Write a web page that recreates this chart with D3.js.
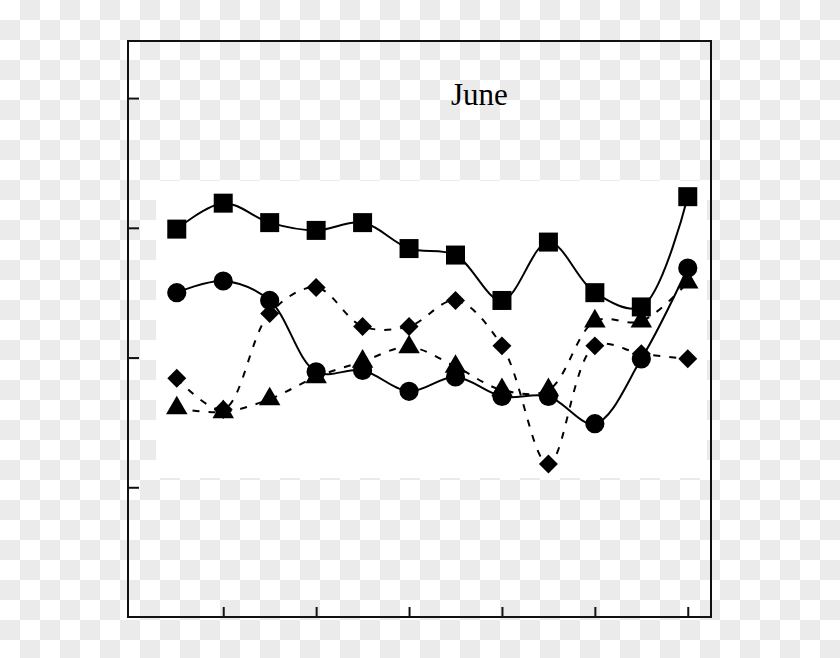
<!DOCTYPE html>
<html>
<head>
<meta charset="utf-8">
<script src="https://cdn.jsdelivr.net/npm/d3@7"></script>
<style>
  html, body { margin: 0; padding: 0; }
  svg { display: block; }
</style>
</head>
<body>
<svg id="canvas"></svg>
<script>
// 12 sampling points along the x axis, no tick labels shown
const xIndex = [0, 1, 2, 3, 4, 5, 6, 7, 8, 9, 10, 11];
const xTicks = [1, 3, 5, 7, 9, 11];
const yTicks = [10, 20, 30, 40];

const squareValues   = [29.9, 31.9, 30.4, 29.8, 30.4, 28.4, 27.9, 24.4, 28.9, 25.0, 23.9, 32.4];
const circleValues   = [25.0, 25.9, 24.4, 18.9, 19.0, 17.4, 18.5, 17.0, 17.0, 14.9, 19.9, 26.9];
const diamondValues  = [18.4, 16.0, 23.4, 25.4, 22.4, 22.4, 24.4, 20.9, 11.8, 20.9, 20.3, 19.9];
const triangleValues = [16.1, 15.8, 16.8, 18.5, 19.7, 20.8, 19.3, 17.5, 17.5, 22.8, 22.8, 25.8];

const title = "June";

const width = 840;
const height = 658;
const plotLeft = 128, plotRight = 711, plotTop = 41, plotBottom = 617;

const svg = d3.select("#canvas")
    .attr("width", width)
    .attr("height", height);

// checkered backdrop
const cell = 20;
const cells = [];
for (let j = 0; j < Math.ceil(height / cell); j++) {
    for (let i = 0; i < Math.ceil(width / cell); i++) {
        if ((i + j) % 2 === 1) cells.push([i, j]);
    }
}
svg.append("rect").attr("width", width).attr("height", height).attr("fill", "#ffffff");
svg.append("g").selectAll("rect")
    .data(cells)
    .enter()
    .append("rect")
    .attr("x", d => d[0] * cell)
    .attr("y", d => d[1] * cell)
    .attr("width", cell)
    .attr("height", cell)
    .attr("fill", "#ebebeb");

// white patch behind the curves
svg.append("rect")
    .attr("x", 156).attr("y", 181)
    .attr("width", 551).attr("height", 297)
    .attr("fill", "#ffffff");

const x = d3.scaleLinear().domain([-1.05, 11.5]).range([plotLeft, plotRight]);
const y = d3.scaleLinear().domain([0, 44.4]).range([plotBottom, plotTop]);

const xAxis = d3.axisBottom(x).tickValues(xTicks).tickSize(-10).tickFormat("");
const yAxis = d3.axisLeft(y).tickValues(yTicks).tickSize(-11).tickFormat("");

svg.append("g")
    .attr("transform", `translate(0, ${plotBottom})`)
    .call(xAxis)
    .call(g => g.select(".domain").remove())
    .selectAll("line").attr("stroke", "#111").attr("stroke-width", 2);

svg.append("g")
    .attr("transform", `translate(${plotLeft}, 0)`)
    .call(yAxis)
    .call(g => g.select(".domain").remove())
    .selectAll("line").attr("stroke", "#111").attr("stroke-width", 2);

svg.append("rect")
    .attr("x", plotLeft).attr("y", plotTop)
    .attr("width", plotRight - plotLeft).attr("height", plotBottom - plotTop)
    .attr("fill", "none")
    .attr("stroke", "#111")
    .attr("stroke-width", 2);

const series = [
    { values: squareValues,   symbol: d3.symbolSquare,   size: 361, rotate: 0,  dash: null },
    { values: circleValues,   symbol: d3.symbolCircle,   size: 290, rotate: 0,  dash: null },
    { values: diamondValues,  symbol: d3.symbolSquare,   size: 180, rotate: 45, dash: "7,9" },
    { values: triangleValues, symbol: d3.symbolTriangle, size: 200, rotate: 0,  dash: "7,9" }
];

const line = d3.line()
    .x((d, i) => x(xIndex[i]))
    .y(d => y(d))
    .curve(d3.curveCatmullRom.alpha(0.5));

series.forEach(s => {
    svg.append("path")
        .attr("d", line(s.values))
        .attr("fill", "none")
        .attr("stroke", "#000")
        .attr("stroke-width", 2)
        .attr("stroke-dasharray", s.dash);
});

series.forEach(s => {
    svg.append("g").selectAll("path")
        .data(s.values)
        .enter()
        .append("path")
        .attr("d", d3.symbol().type(s.symbol).size(s.size))
        .attr("transform", (d, i) => `translate(${x(xIndex[i])}, ${y(d)}) rotate(${s.rotate})`)
        .attr("fill", "#000");
});

svg.append("text")
    .attr("x", 451)
    .attr("y", 105)
    .attr("font-family", "Liberation Serif, Times New Roman, serif")
    .attr("font-size", 31)
    .attr("fill", "#000")
    .text(title);
</script>
</body>
</html>
